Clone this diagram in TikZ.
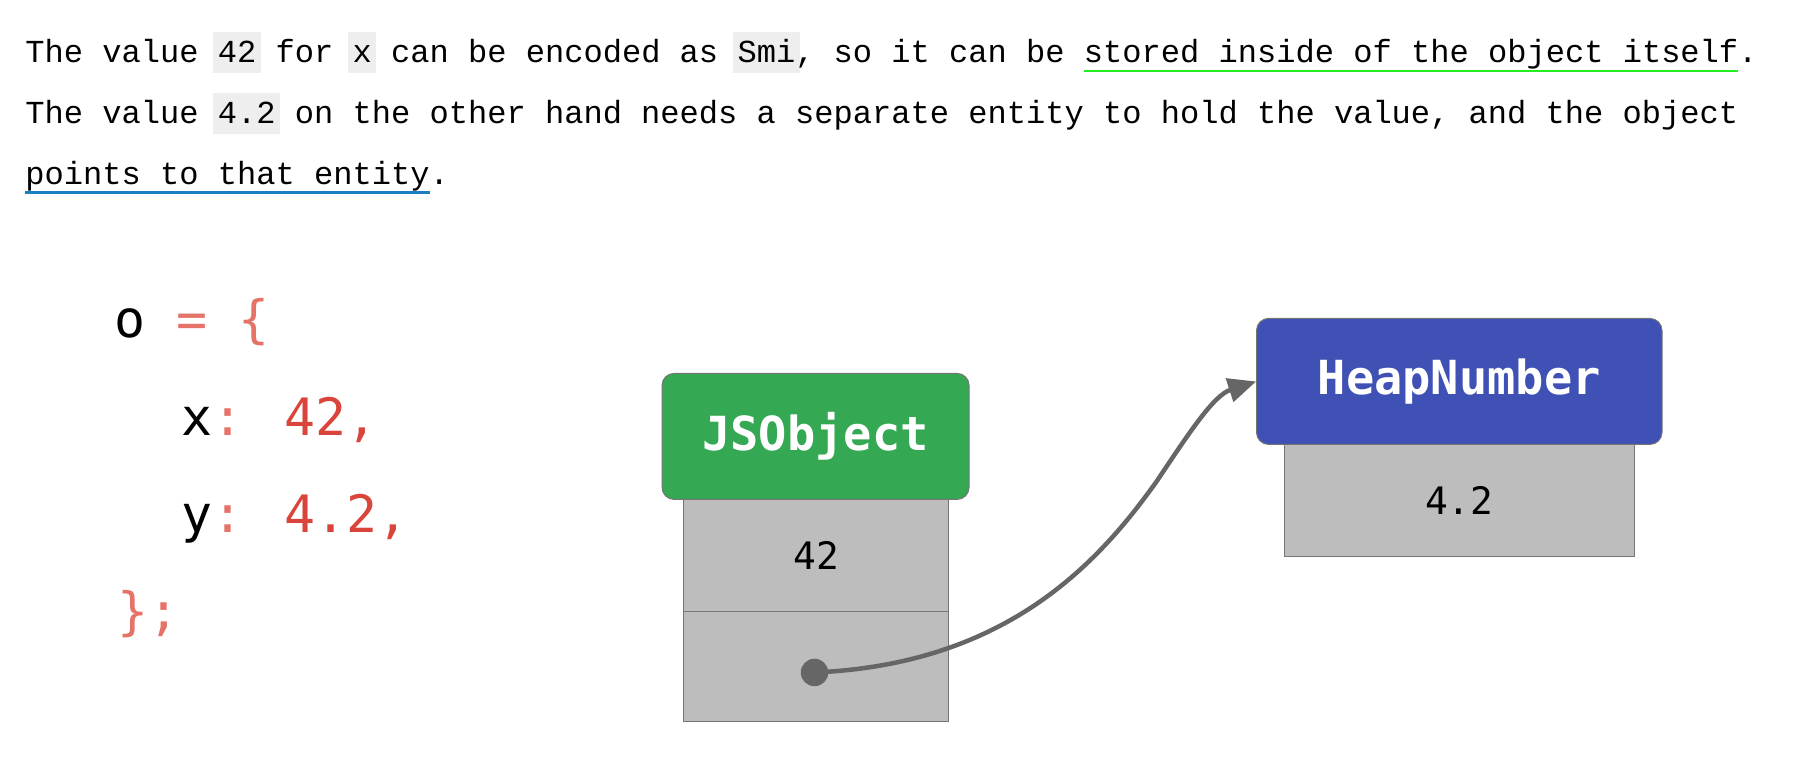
\documentclass[tikz,border=0pt]{standalone}
\usepackage{fontspec}
\setmainfont{Liberation Mono}
\newfontfamily\codefont{DejaVu Sans Mono}
\newfontfamily\boldsans{DejaVu Sans Mono}
\definecolor{hlgray}{HTML}{EEEEEE}
\definecolor{ulgreen}{HTML}{22EE22}
\definecolor{ulblue}{HTML}{1A7FC0}
\definecolor{salmon}{HTML}{E57368}
\definecolor{codered}{HTML}{D9453B}
\definecolor{jsgreen}{HTML}{34A853}
\definecolor{hnblue}{HTML}{3F51B5}
\definecolor{cellgray}{HTML}{BDBDBD}
\definecolor{edgegray}{HTML}{757575}
\definecolor{arrgray}{HTML}{666666}
\newcommand{\hlx}[1]{\setbox0\hbox{#1}\rlap{\hskip-4pt\textcolor{hlgray}{\rule[-9pt]{\dimexpr\wd0+8pt\relax}{36pt}}}#1}
\newcommand{\ulx}[2]{\setbox0\hbox{#2}\rlap{\textcolor{#1}{\rule[-8pt]{\wd0}{2pt}}}#2}
\usetikzlibrary{arrows.meta}
\tikzset{
 para/.style={anchor=base west,inner sep=0pt,font=\fontsize{28}{30}\selectfont},
 code/.style={anchor=base west,inner sep=0pt,font=\codefont\fontsize{45}{50}\selectfont},
 head/.style={draw=edgegray,rounded corners=12pt,text=white,font=\boldsans\bfseries\fontsize{41}{44}\selectfont,line width=1pt},
 cell/.style={draw=edgegray,fill=cellgray,font=\codefont\fontsize{33}{36}\selectfont,line width=1pt}
}
\begin{document}
\begin{tikzpicture}[x=1pt,y=-1pt,scale=1.1455,transform shape]
\useasboundingbox (0,0) rectangle (1568,664.4);
\node[para] (l1) at (22,55) {The value \hlx{42} for \hlx{x} can be encoded as \hlx{Smi}, so it can be \ulx{ulgreen}{stored inside of the object itself}.};
\node[para] (l2) at (22,108) {The value \hlx{4.2} on the other hand needs a separate entity to hold the value, and the object};
\node[para] (l3) at (22,161) {\ulx{ulblue}{points to that entity}.};
\node[code] (c1) at (100,295) {o \textcolor{salmon}{= \{}};
\node[code] (c2) at (158,380) {x\textcolor{salmon}{:} \textcolor{codered}{42,}};
\node[code] (c3) at (158,465) {y\textcolor{salmon}{:} \textcolor{codered}{4.2,}};
\node[code] (c4) at (102,550) {\textcolor{salmon}{\};}};
% JSObject
\node[cell,minimum width=231pt,minimum height=98pt] (jc1) at (712.5,485) {42};
\node[cell,minimum width=231pt,minimum height=96pt] (jc2) at (712.5,582) {};
\node[head,fill=jsgreen,minimum width=268pt,minimum height=110pt] (js) at (712,381) {JSObject};
% HeapNumber
\node[cell,minimum width=306pt,minimum height=98pt] (hc1) at (1274,437) {4.2};
\node[head,fill=hnblue,minimum width=354pt,minimum height=110pt] (hn) at (1274,333) {HeapNumber};
\coordinate (dot) at (711,587);
\fill[arrgray] (dot) circle (12);
\draw[arrgray,line width=4.5pt,-{Triangle[length=28pt,width=24pt]}] (dot) .. controls (880,580) and (960,490) .. (1010,420) .. controls (1040,375) and (1060,345) .. (hn.west);
\end{tikzpicture}
\end{document}
